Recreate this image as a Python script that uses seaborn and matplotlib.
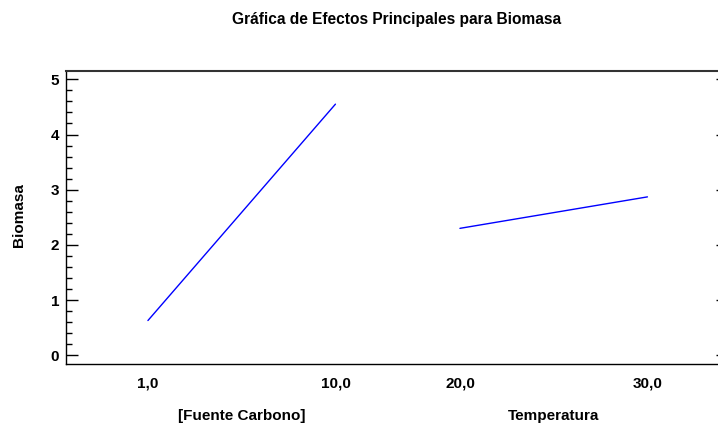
import matplotlib
matplotlib.use("Agg")
import matplotlib.pyplot as plt
import matplotlib.transforms as mtransforms
from matplotlib.ticker import MultipleLocator
import seaborn as sns
import pandas as pd

# ---- data ----
factors = ["[Fuente Carbono]", "Temperatura"]
level_labels = [["1,0", "10,0"], ["20,0", "30,0"]]
biomasa = [[0.63, 4.55], [2.30, 2.87]]

title = "Gráfica de Efectos Principales para Biomasa"
ylabel = "Biomasa"

# ---- layout (positions along the x axis) ----
seg_width = 1.0
gap = 0.664

rows = []
pos_ticks, pos_labels, mids = [], [], []
start = 0.0
for f, labs, vals in zip(factors, level_labels, biomasa):
    xs = [start, start + seg_width]
    for x, lab, v in zip(xs, labs, vals):
        rows.append({"factor": f, "pos": x, "biomasa": v})
        pos_ticks.append(x)
        pos_labels.append(lab)
    mids.append(start + seg_width / 2)
    start += seg_width + gap
df = pd.DataFrame(rows)

sns.set_style("ticks")
plt.rcParams["font.family"] = ["Liberation Sans", "DejaVu Sans"]
plt.rcParams["font.weight"] = "bold"
plt.rcParams["text.color"] = "black"
plt.rcParams["xtick.color"] = "black"
plt.rcParams["ytick.color"] = "black"
plt.rcParams["xtick.labelcolor"] = "black"
plt.rcParams["ytick.labelcolor"] = "black"

FS = 11

fig = plt.figure(figsize=(7.18, 4.25), dpi=100)
ax = fig.add_axes([66 / 718, 1 - 364.3 / 425, (720 - 66) / 718, (364.3 - 70.7) / 425])

sns.lineplot(data=df, x="pos", y="biomasa", units="factor", estimator=None,
             color="#0000ff", lw=1.0, ax=ax)

ax.set_xlim(-0.437, 3.051)
ax.set_ylim(-0.163, 5.156)
ax.yaxis.set_major_locator(MultipleLocator(1))
ax.yaxis.set_minor_locator(MultipleLocator(0.2))
ax.set_xticks(pos_ticks)
ax.set_xticklabels(pos_labels, fontsize=FS, fontweight="bold", color="black")
ax.tick_params(axis="x", length=0, pad=9)
ax.tick_params(axis="y", which="major", direction="in", length=8.6, width=1,
               left=True, right=False, labelsize=FS, pad=5)
ax.tick_params(axis="y", which="minor", direction="in", length=4.3, width=1,
               left=True, right=False)
for lab in ax.get_yticklabels():
    lab.set_fontweight("bold")
    lab.set_color("black")

# short inward marks on the right side (major only)
ax_r = ax.secondary_yaxis("right")
ax_r.yaxis.set_major_locator(MultipleLocator(1))
ax_r.tick_params(axis="y", direction="in", length=3, width=1, labelright=False)
ax_r.spines["right"].set_visible(False)

for s in ax.spines.values():
    s.set_visible(True)
    s.set_color("black")
    s.set_linewidth(1.0)
ax.spines["top"].set_color("#333333")
ax.spines["top"].set_linewidth(1.5)

ax.set_xlabel("")
ax.set_ylabel("")
fig.text(19 / 718, 1 - 215 / 425, ylabel, rotation=90, ha="center", va="center",
         fontsize=FS, fontweight="bold", color="black")
fig.text(397 / 718, 1 - 24 / 425, title, ha="center", va="baseline",
         fontsize=11.2, fontweight="bold", color="black")

trans = mtransforms.blended_transform_factory(ax.transData, fig.transFigure)
for m, f in zip(mids, factors):
    ax.text(m, 1 - 420 / 425, f, transform=trans, ha="center", va="baseline",
            fontsize=FS, fontweight="bold", color="black", clip_on=False)

fig.savefig("out.png", dpi=100, facecolor="white")
